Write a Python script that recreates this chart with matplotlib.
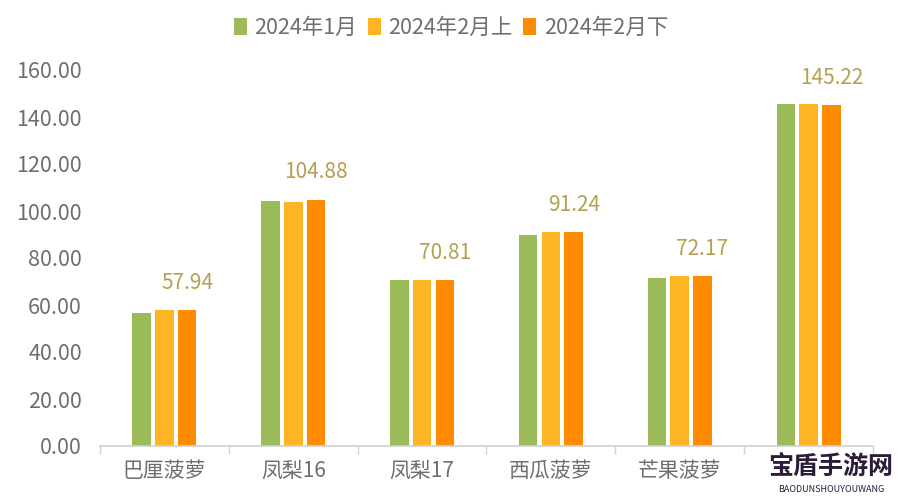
import matplotlib
matplotlib.use("Agg")
import matplotlib.pyplot as plt
from matplotlib.patches import Patch
import numpy as np

plt.rcParams['font.family'] = ['Noto Sans CJK SC', 'DejaVu Sans']

categories = ['巴厘菠萝', '凤梨16', '凤梨17', '西瓜菠萝', '芒果菠萝', '']
series_names = ['2024年1月', '2024年2月上', '2024年2月下']
jan = [56.5, 104.4, 70.5, 90.0, 71.6, 145.7]
feb_early = [57.9, 104.0, 70.8, 91.2, 72.4, 145.4]
feb_late = [57.94, 104.88, 70.81, 91.24, 72.17, 145.22]
yticks = [0, 20, 40, 60, 80, 100, 120, 140, 160]

colors = ['#9BBB59', '#FDB523', '#FF8C00']
label_color = '#B4A050'
text_gray = '#6E6E6E'

fig = plt.figure(figsize=(9.02, 5.0), dpi=100)
ax = fig.add_axes([100/902, 54/500, 773/902, 376/500])

x = np.arange(len(categories))
w = 0.144
off = 0.177
for i, (vals, c) in enumerate(zip([jan, feb_early, feb_late], colors)):
    ax.bar(x + (i - 1) * off, vals, width=w, color=c, edgecolor='none', zorder=2)

for xi, v in zip(x, feb_late):
    ax.annotate(f'{v:.2f}', xy=(xi + off, v), xytext=(0, 19.5), textcoords='offset points',
                ha='center', va='center', fontsize=15, color=label_color)

ax.set_xlim(-0.5, len(categories) - 0.5)
ax.set_ylim(0, 160)
ax.set_yticks(yticks)
ax.set_yticklabels([f'{t:.2f}' for t in yticks], fontsize=15.5, color=text_gray)
ax.tick_params(axis='y', length=0, pad=13)

ax.set_xticks(x)
ax.set_xticklabels(categories, fontsize=15, color=text_gray)
ax.set_xticks(np.arange(-0.5, len(categories)), minor=True)
ax.tick_params(axis='x', which='major', length=0, pad=10)
ax.tick_params(axis='x', which='minor', length=6, color='#D0D0D0', width=1)

for s in ['top', 'right', 'left']:
    ax.spines[s].set_visible(False)
ax.spines['bottom'].set_color('#D0D0D0')
ax.spines['bottom'].set_linewidth(1.2)

handles = [Patch(facecolor=c, edgecolor='none') for c in colors]
fig.legend(handles, series_names, loc='center', bbox_to_anchor=(451/902, 1 - 28/500),
           ncol=3, frameon=False, fontsize=15.5, handlelength=0.6, handleheight=0.8,
           handletextpad=0.35, columnspacing=0.5, labelcolor=text_gray)

# watermark
fig.text(831/902, 1 - 468/500, '宝盾手游网', ha='center', va='center', fontsize=18,
         fontweight='bold', color='#2B1D3A')
fig.text(831/902, 1 - 490/500, 'BAODUNSHOUYOUWANG', ha='center', va='center', fontsize=6.5,
         color='#2B1D3A')

fig.savefig('out.png', dpi=100)
